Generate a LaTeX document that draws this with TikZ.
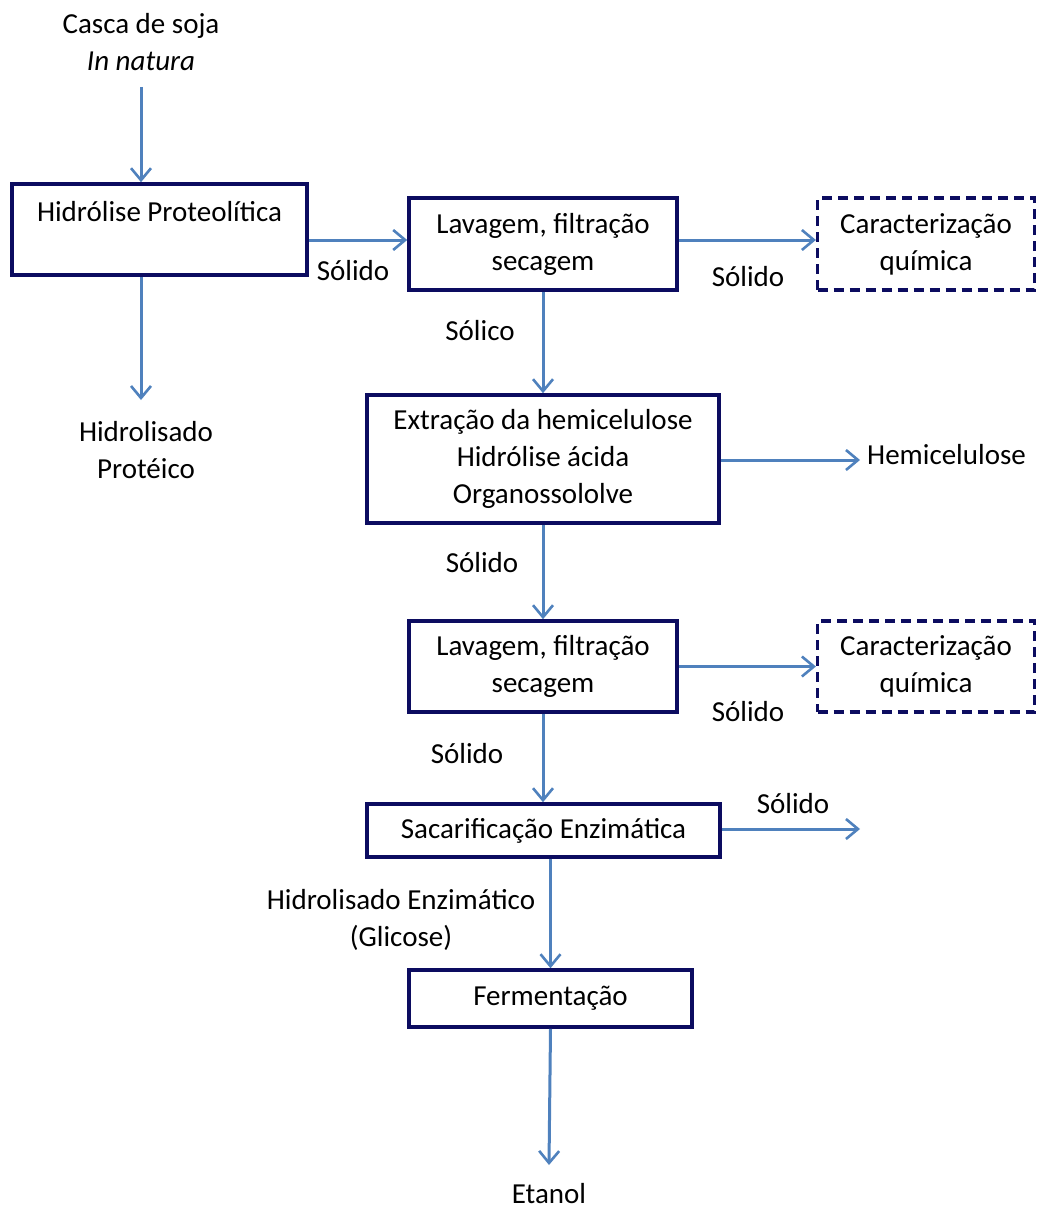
\documentclass[tikz,border=0pt]{standalone}
\usepackage{fontspec}
\setmainfont{Carlito}
\usetikzlibrary{arrows.meta,calc}
\definecolor{navy}{RGB}{12,12,96}
\definecolor{flow}{RGB}{79,129,189}
\begin{document}
\begin{tikzpicture}[x=1pt,y=-1pt,
  every node/.style={font=\fontsize{29}{37}\selectfont, inner sep=0pt},
  box/.style={draw=navy, line width=3.6pt, align=center},
  dbox/.style={draw=navy, line width=3.2pt, dash pattern=on 10pt off 6pt, align=center},
  arr/.style={draw=flow, line width=3pt, -{Straight Barb[length=12pt,width=20pt,line width=2.6pt]}},
  lbl/.style={align=center}]
\useasboundingbox (0,0) rectangle (1037,1209);
% text nodes
\node[lbl] (casca) at (141,42) {Casca de soja\\ \textit{In natura}};
\node[box, minimum width=295pt, minimum height=91pt] (b1) at (159.5,229.5) {Hidrólise Proteolítica\\ \mbox{}};
\node[lbl] (hp) at (146,450) {Hidrolisado\\ Protéico};
\node[box, minimum width=268pt, minimum height=92pt] (b2) at (543,244) {Lavagem, filtração\\ secagem};
\node[dbox, minimum width=217pt, minimum height=92pt] (d1) at (926,244) {Caracterização\\ química};
\node[box, minimum width=352pt, minimum height=128pt] (b3) at (543,459) {Extração da hemicelulose\\ Hidrólise ácida\\ Organossololve};
\node[lbl, anchor=west] (hemi) at (867,455) {Hemicelulose};
\node[box, minimum width=268pt, minimum height=91pt] (b4) at (543,666.5) {Lavagem, filtração\\ secagem};
\node[dbox, minimum width=217pt, minimum height=91pt] (d2) at (926,666.5) {Caracterização\\ química};
\node[box, minimum width=353pt, minimum height=53pt] (b5) at (543.5,830.5) {Sacarificação Enzimática};
\node[box, minimum width=283pt, minimum height=57pt] (b6) at (550.5,998.5) {Fermentação};
\node[lbl] (etanol) at (549,1194) {Etanol};
% coordinates
\coordinate (hpTop) at (141,400);
\coordinate (hemiEnd) at (860,460);
\coordinate (solEnd) at (860,829);
\coordinate (etEnd) at (549,1165);
\coordinate (cascaEnd) at (141,87);
% connectors
\draw[arr] (cascaEnd) -- (cascaEnd |- b1.north);
\draw[arr] (cascaEnd |- b1.south) -- (hpTop);
\draw[arr] (b1.east |- 0,240) -- (b2.west |- 0,240);
\draw[arr] (b2.east |- 0,240) -- (d1.west |- 0,240);
\draw[arr] (b2.south) -- (b3.north);
\draw[arr] (b3.east |- hemiEnd) -- (hemiEnd);
\draw[arr] (b3.south) -- (b4.north);
\draw[arr] (b4.east) -- (d2.west);
\draw[arr] (b4.south) -- (b4.south |- b5.north);
\draw[arr] (b5.east |- solEnd) -- (solEnd);
\draw[arr] (b6.north |- b5.south) -- (b6.north);
\draw[arr] (b6.south) -- (etEnd);
% labels
\node (l1) at (353,271) {Sólido};
\node (l2) at (748,277) {Sólido};
\node (l3) at (480,331) {Sólico};
\node (l4) at (482,563) {Sólido};
\node (l5) at (748,712) {Sólido};
\node (l6) at (467,754) {Sólido};
\node (l7) at (793,804) {Sólido};
\node[lbl] (l8) at (401,920) {Hidrolisado Enzimático\\ (Glicose)};
\end{tikzpicture}
\end{document}
